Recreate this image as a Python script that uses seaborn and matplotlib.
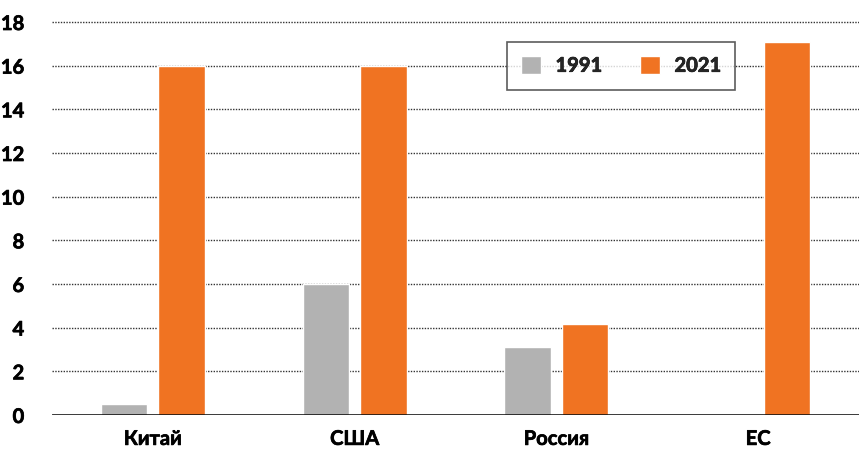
import matplotlib
matplotlib.use("Agg")
import matplotlib.pyplot as plt
import matplotlib.patheffects as pe
import seaborn as sns
import pandas as pd

categories = ["Китай", "США", "Россия", "ЕС"]
years = ["1991", "2021"]
values_1991 = [0.5, 6.0, 3.1, 0.0]
values_2021 = [16.0, 16.0, 4.15, 17.1]
yticks = [0, 2, 4, 6, 8, 10, 12, 14, 16, 18]

df = pd.DataFrame({
    "country": categories * 2,
    "year": [years[0]] * 4 + [years[1]] * 4,
    "value": values_1991 + values_2021,
})

sns.set_theme(style="white")
plt.rcParams["font.family"] = ["Lato", "DejaVu Sans"]

fig = plt.figure(figsize=(8.59, 4.5), dpi=100)
ax = fig.add_axes([0.0605, 0.0778, 0.9395, 0.8733])

palette = {"1991": "#B2B2B2", "2021": "#F07322"}
sns.barplot(data=df, x="country", y="value", hue="year", order=categories,
            hue_order=years, palette=palette, width=0.57, gap=0.19,
            saturation=1, ax=ax, zorder=3)

ax.set_ylim(0, 18)
ax.set_xlim(-0.5, 3.5)
ax.set_yticks(yticks)
ax.set_yticklabels([str(t) for t in yticks])
for y in yticks[1:]:
    ax.axhline(y, color="#333333", lw=1.0, ls=(0, (1, 1)), zorder=1, clip_on=False)
ax.axhline(0, color="black", lw=1.8, zorder=4)

for s in ax.spines.values():
    s.set_visible(False)
ax.set_xlabel("")
ax.set_ylabel("")
ax.tick_params(axis="y", length=0, pad=20, labelsize=14.5)
ax.tick_params(axis="x", length=0, pad=10, labelsize=14.5)
thick = [pe.withStroke(linewidth=0.5, foreground="black")]
for lbl in ax.get_xticklabels() + ax.get_yticklabels():
    lbl.set_fontweight("bold")
    lbl.set_color("black")
    lbl.set_path_effects(thick)

leg = ax.legend(loc="upper left", bbox_to_anchor=(0.564, 0.95), ncol=2,
                frameon=True, fancybox=False, edgecolor="#333333",
                prop={"weight": "bold", "size": 14.5}, handlelength=1.0,
                handleheight=1.0, columnspacing=1.9, handletextpad=0.7,
                borderpad=0.7, borderaxespad=0)
leg.get_frame().set_linewidth(1.2)
leg.set_zorder(5)
for t in leg.get_texts():
    t.set_path_effects(thick)

fig.savefig("out.png", dpi=100, facecolor="white")
